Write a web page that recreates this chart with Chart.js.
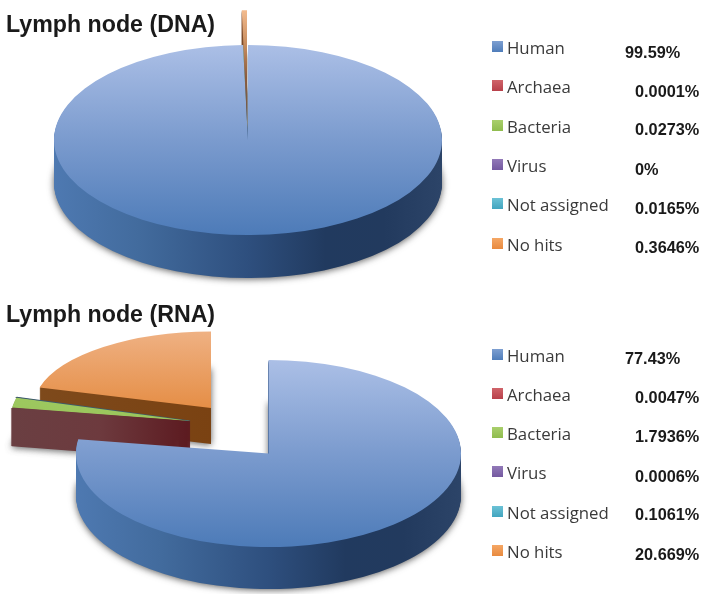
<!DOCTYPE html>
<html>
<head>
<meta charset="utf-8">
<script src="https://cdn.jsdelivr.net/npm/chart.js@4"></script>
<style>
  html, body { margin: 0; padding: 0; background: #fff; }
  #page { position: relative; width: 707px; height: 594px; overflow: hidden; }
  canvas { position: absolute; left: 0; }
  .title { position: absolute; left: 6px; font: bold 23.2px "Liberation Sans", sans-serif; color: #1a1a1a; line-height: 26px; white-space: nowrap; }
  .swatch { position: absolute; left: 492px; width: 11px; height: 11px; }
  .label { position: absolute; left: 507px; font: 16.8px "Open Sans", sans-serif; color: #3a3a3a; line-height: 20px; white-space: nowrap; }
  .value { position: absolute; font: bold 16.3px "Liberation Sans", sans-serif; color: #1a1a1a; line-height: 18px; white-space: nowrap; }
</style>
</head>
<body>
<div id="page">
  <canvas id="dnaPie" width="707" height="297" style="top:0"></canvas>
  <canvas id="rnaPie" width="707" height="297" style="top:297px"></canvas>
  <div class="title" style="top:11px">Lymph node (DNA)</div>
  <div class="title" style="top:301px">Lymph node (RNA)</div>
</div>
<script>
const categories = ['Human', 'Archaea', 'Bacteria', 'Virus', 'Not assigned', 'No hits'];
const dnaValues = [99.59, 0.0001, 0.0273, 0, 0.0165, 0.3646];
const rnaValues = [77.43, 0.0047, 1.7936, 0.0006, 0.1061, 20.669];
const dnaLabels = ['99.59%', '0.0001%', '0.0273%', '0%', '0.0165%', '0.3646%'];
const rnaLabels = ['77.43%', '0.0047%', '1.7936%', '0.0006%', '0.1061%', '20.669%'];
const swatchTop = ['#7d9fd1', '#d0646a', '#a9cf6c', '#9279b8', '#6cc2d6', '#f5a765'];
const swatchBottom = ['#4f7dba', '#b8404a', '#8fbc4e', '#7459a0', '#42a5bf', '#e88a3f'];

// where each slice ends up on the page, y is relative to its canvas
const R = 190;
const dnaBody = { x: 248, y: 140, r: 194, k: 0.49, d: 43 };
const dnaSpike = { x: 247, y: 122, r: 228, k: 0.49, d: 43 };
const dnaPlaces = [dnaBody, dnaBody, dnaBody, dnaBody, dnaBody, dnaSpike];
const rnaBody = { x: 268.5, y: 156.5, r: 192.5, k: 0.486, d: 42 };
const rnaThin = { x: 190, y: 124, r: 180, k: 0.49, d: 38 };
const rnaHits = { x: 211, y: 111, r: 178, k: 0.43, d: 36 };
const rnaPlaces = [rnaBody, rnaThin, rnaThin, rnaThin, rnaThin, rnaHits];

// drawing order, back to front
const dnaPasses = [[5, 'wall'], [0, 'wall'], [0, 'top'], [2, 'top'], [4, 'top'], [5, 'top']];
const rnaPasses = [[5, 'wall'], [5, 'top'], [2, 'wall'], [4, 'top'], [3, 'top'], [2, 'top'], [1, 'wall'], [0, 'wall'], [0, 'top']];

function linear(ctx, x0, y0, x1, y1, stops) {
  const g = ctx.createLinearGradient(x0, y0, x1, y1);
  stops.forEach(s => g.addColorStop(s[0], s[1]));
  return g;
}

function drawArc(ctx, arc, over) {
  const saved = arc.options;
  arc.options = Object.assign({}, saved, over);
  arc.draw(ctx);
  arc.options = saved;
}

// flattens the arcs into discs and stacks them to get the 3D look
function pie3d(places, passes, topStops, wallStops, edges) {
  return {
    id: 'pie3d',
    beforeDatasetsDraw(chart) {
      const ctx = chart.ctx;
      const arcs = chart.getDatasetMeta(0).data;
      passes.forEach(([i, kind]) => {
        const arc = arcs[i];
        const p = places[i];
        const s = p.r / arc.outerRadius;
        const place = dy => {
          ctx.translate(p.x, p.y + dy);
          ctx.scale(s, s * p.k);
          ctx.translate(-arc.x, -arc.y);
        };
        if (kind === 'top') {
          const fill = linear(ctx, 0, arc.y - R, 0, arc.y + R, topStops[i]);
          ctx.save();
          place(0);
          const line = edges[i];
          drawArc(ctx, arc, line ? { backgroundColor: fill, borderColor: line, borderWidth: 2 } : { backgroundColor: fill });
          ctx.restore();
          return;
        }
        const fill = linear(ctx, arc.x - R, 0, arc.x + R, 0, wallStops[i]);
        for (let d = p.d; d > 0; d--) {
          ctx.save();
          if (d === p.d) {
            ctx.shadowColor = 'rgba(50,50,50,0.8)';
            ctx.shadowBlur = 7;
            ctx.shadowOffsetY = 1;
          }
          place(d);
          drawArc(ctx, arc, i === 1
            ? { backgroundColor: fill, borderColor: fill, borderWidth: 3 }
            : { backgroundColor: fill });
          ctx.restore();
        }
      });
      return false;
    }
  };
}

const blueTop = [[0, '#abbfe6'], [0.5, '#7b9bce'], [1, '#4d7bb8']];
const blueWall = [[0, '#4e79b1'], [0.22, '#426b9d'], [0.5, '#2e4f7e'], [0.7, '#213a5f'], [0.85, '#223a5e'], [1, '#2c4468']];
const thinGreen = [[0, '#a6d068'], [1, '#8ebb50']];
const maroonWall = [[0, '#6a3f42'], [0.25, '#6d3a3e'], [0.5, '#5c1a20'], [1, '#5c1a20']];
const hitsTop = [[0, '#efb183'], [0.5, '#e58e46'], [1, '#e37e2b']];
const hitsWall = [[0, '#7e4a1c'], [0.5, '#7a4212'], [1, '#7a4010']];
const spikeTop = [[0, '#f3bb8e'], [0.16, '#c58a5c'], [0.3, '#8a5a3c'], [0.5, '#6f5a50'], [0.62, '#7f97c6']];
const spikeWall = [[0, '#7a4a2a'], [1, '#7a4a2a']];

const dnaTop = [blueTop, blueTop, thinGreen, blueTop, blueTop, spikeTop];
const dnaWall = [blueWall, blueWall, blueWall, blueWall, blueWall, spikeWall];
const rnaTop = [blueTop, blueTop, thinGreen, [[0, '#3d5a6b'], [1, '#3d5a6b']], [[0, '#3d5a6b'], [1, '#3d5a6b']], hitsTop];
const rnaWall = [blueWall, maroonWall, maroonWall, maroonWall, maroonWall, hitsWall];

function makePie(id, values, places, passes, tops, walls, edges) {
  return new Chart(document.getElementById(id), {
    type: 'pie',
    data: {
      labels: categories,
      datasets: [{ data: values, backgroundColor: swatchBottom, borderWidth: 0, clip: false }]
    },
    options: {
      responsive: false,
      animation: false,
      events: [],
      radius: R,
      layout: { padding: 0 },
      plugins: { legend: { display: false }, tooltip: { enabled: false } }
    },
    plugins: [pie3d(places, passes, tops, walls, edges)]
  });
}

makePie('dnaPie', dnaValues, dnaPlaces, dnaPasses, dnaTop, dnaWall, {});
makePie('rnaPie', rnaValues, rnaPlaces, rnaPasses, rnaTop, rnaWall, { 4: '#3d5a6b' });

// legend rows next to each pie
const page = document.getElementById('page');
function addRows(labels, labelY, valueY, firstX) {
  categories.forEach((name, i) => {
    const sw = document.createElement('div');
    sw.className = 'swatch';
    sw.style.top = (labelY[i] - 7) + 'px';
    sw.style.background = 'linear-gradient(' + swatchTop[i] + ',' + swatchBottom[i] + ')';
    page.appendChild(sw);
    const lab = document.createElement('div');
    lab.className = 'label';
    lab.textContent = name;
    lab.style.top = (labelY[i] - 10) + 'px';
    page.appendChild(lab);
    const val = document.createElement('div');
    val.className = 'value';
    val.textContent = labels[i];
    val.style.top = (valueY[i] - 9) + 'px';
    val.style.left = (i === 0 ? firstX : 635) + 'px';
    page.appendChild(val);
  });
}
addRows(dnaLabels, [48, 87, 127, 166, 205, 245], [52, 91, 129, 169, 208, 247], 625);
addRows(rnaLabels, [356, 395, 434, 473, 513, 552], [358, 397, 436, 476, 514, 554], 625);
</script>
</body>
</html>
